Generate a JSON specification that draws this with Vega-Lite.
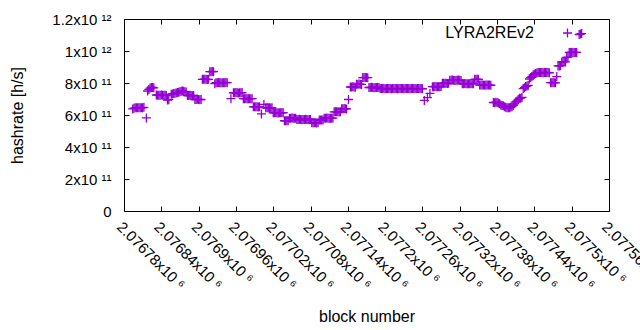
{
"$schema": "https://vega.github.io/schema/vega-lite/v6.json",
"width": 485, "height": 192,
"autosize": {"type": "none"},
"padding": {"left": 124, "top": 19, "right": 31, "bottom": 119},
"background": "#ffffff",
"data": {"values": [
{"b":2076794,"h":6.38e11},{"b":2076796,"h":6.42e11},{"b":2076798,"h":6.45e11},{"b":2076800,"h":6.45e11},{"b":2076802,"h":6.46e11},{"b":2076804,"h":6.45e11},{"b":2076806,"h":6.45e11},{"b":2076808,"h":6.46e11},{"b":2076810,"h":6.45e11},{"b":2076812,"h":6.48e11},
{"b":2076816,"h":5.82e11},
{"b":2076818,"h":7.5e11},{"b":2076820,"h":7.6e11},{"b":2076822,"h":7.68e11},{"b":2076824,"h":7.72e11},{"b":2076826,"h":7.72e11},{"b":2076828,"h":7.7e11},
{"b":2076832,"h":7.25e11},{"b":2076834,"h":7.24e11},{"b":2076836,"h":7.23e11},{"b":2076838,"h":7.24e11},{"b":2076840,"h":7.25e11},{"b":2076842,"h":7.24e11},{"b":2076844,"h":7.24e11},{"b":2076846,"h":7.23e11},{"b":2076848,"h":7.22e11},
{"b":2076850,"h":6.93e11},{"b":2076852,"h":6.96e11},
{"b":2076856,"h":7.30e11},{"b":2076858,"h":7.32e11},{"b":2076860,"h":7.34e11},{"b":2076862,"h":7.36e11},{"b":2076864,"h":7.38e11},{"b":2076866,"h":7.40e11},{"b":2076868,"h":7.42e11},{"b":2076870,"h":7.45e11},{"b":2076872,"h":7.48e11},{"b":2076874,"h":7.50e11},{"b":2076876,"h":7.48e11},{"b":2076878,"h":7.46e11},{"b":2076880,"h":7.44e11},
{"b":2076882,"h":7.22e11},{"b":2076884,"h":7.22e11},{"b":2076886,"h":7.23e11},{"b":2076888,"h":7.22e11},{"b":2076890,"h":7.21e11},{"b":2076892,"h":7.22e11},
{"b":2076894,"h":6.97e11},{"b":2076896,"h":6.97e11},{"b":2076898,"h":6.98e11},{"b":2076900,"h":6.97e11},{"b":2076902,"h":6.96e11},{"b":2076904,"h":6.97e11},
{"b":2076906,"h":8.23e11},{"b":2076908,"h":8.23e11},{"b":2076910,"h":8.24e11},{"b":2076912,"h":8.23e11},{"b":2076914,"h":8.22e11},{"b":2076916,"h":8.23e11},
{"b":2076918,"h":8.71e11},{"b":2076920,"h":8.71e11},{"b":2076922,"h":8.72e11},{"b":2076924,"h":8.71e11},
{"b":2076926,"h":7.96e11},{"b":2076928,"h":8.02e11},{"b":2076930,"h":8.02e11},{"b":2076932,"h":8.03e11},{"b":2076934,"h":8.02e11},{"b":2076936,"h":8.02e11},{"b":2076938,"h":8.01e11},{"b":2076940,"h":8.02e11},{"b":2076942,"h":8.02e11},{"b":2076944,"h":8.03e11},{"b":2076946,"h":8.02e11},
{"b":2076952,"h":7.02e11},
{"b":2076956,"h":7.39e11},{"b":2076958,"h":7.39e11},{"b":2076960,"h":7.40e11},{"b":2076962,"h":7.39e11},{"b":2076964,"h":7.38e11},{"b":2076966,"h":7.39e11},{"b":2076968,"h":7.39e11},{"b":2076970,"h":7.40e11},
{"b":2076972,"h":7.02e11},{"b":2076974,"h":7.02e11},{"b":2076976,"h":7.03e11},{"b":2076978,"h":7.02e11},{"b":2076980,"h":7.01e11},{"b":2076982,"h":7.02e11},{"b":2076984,"h":7.02e11},{"b":2076986,"h":7.02e11},
{"b":2076988,"h":6.51e11},{"b":2076990,"h":6.51e11},{"b":2076992,"h":6.52e11},{"b":2076994,"h":6.51e11},{"b":2076996,"h":6.50e11},{"b":2076998,"h":6.51e11},
{"b":2077001,"h":6.07e11},
{"b":2077005,"h":6.66e11},
{"b":2077008,"h":6.45e11},{"b":2077010,"h":6.45e11},{"b":2077012,"h":6.46e11},{"b":2077014,"h":6.45e11},{"b":2077016,"h":6.44e11},{"b":2077018,"h":6.45e11},
{"b":2077020,"h":6.14e11},{"b":2077022,"h":6.14e11},{"b":2077024,"h":6.15e11},{"b":2077026,"h":6.14e11},{"b":2077028,"h":6.13e11},{"b":2077030,"h":6.14e11},{"b":2077032,"h":6.14e11},{"b":2077034,"h":6.15e11},{"b":2077036,"h":6.14e11},
{"b":2077038,"h":5.64e11},{"b":2077040,"h":5.64e11},{"b":2077042,"h":5.65e11},{"b":2077044,"h":5.64e11},
{"b":2077046,"h":5.80e11},{"b":2077048,"h":5.80e11},{"b":2077050,"h":5.81e11},{"b":2077052,"h":5.80e11},{"b":2077054,"h":5.79e11},{"b":2077056,"h":5.80e11},
{"b":2077058,"h":5.72e11},{"b":2077060,"h":5.72e11},{"b":2077062,"h":5.73e11},{"b":2077064,"h":5.72e11},{"b":2077066,"h":5.71e11},{"b":2077068,"h":5.72e11},{"b":2077070,"h":5.72e11},{"b":2077072,"h":5.73e11},{"b":2077074,"h":5.72e11},{"b":2077076,"h":5.71e11},{"b":2077078,"h":5.72e11},{"b":2077080,"h":5.72e11},
{"b":2077082,"h":5.51e11},{"b":2077084,"h":5.51e11},{"b":2077086,"h":5.52e11},{"b":2077088,"h":5.51e11},{"b":2077090,"h":5.50e11},{"b":2077092,"h":5.51e11},
{"b":2077094,"h":5.68e11},{"b":2077096,"h":5.68e11},{"b":2077098,"h":5.69e11},{"b":2077100,"h":5.68e11},
{"b":2077102,"h":5.80e11},{"b":2077104,"h":5.80e11},{"b":2077106,"h":5.81e11},{"b":2077108,"h":5.80e11},{"b":2077110,"h":5.79e11},{"b":2077112,"h":5.80e11},{"b":2077114,"h":5.80e11},{"b":2077116,"h":5.81e11},
{"b":2077118,"h":6.20e11},{"b":2077120,"h":6.20e11},{"b":2077122,"h":6.21e11},{"b":2077124,"h":6.20e11},{"b":2077126,"h":6.19e11},{"b":2077128,"h":6.20e11},
{"b":2077130,"h":6.39e11},{"b":2077132,"h":6.39e11},{"b":2077134,"h":6.40e11},{"b":2077136,"h":6.39e11},{"b":2077138,"h":6.38e11},
{"b":2077141,"h":6.97e11},
{"b":2077144,"h":7.75e11},{"b":2077146,"h":7.75e11},{"b":2077148,"h":7.76e11},{"b":2077150,"h":7.75e11},{"b":2077152,"h":7.74e11},
{"b":2077154,"h":7.92e11},{"b":2077156,"h":7.92e11},{"b":2077158,"h":7.93e11},{"b":2077160,"h":7.92e11},{"b":2077162,"h":7.91e11},
{"b":2077164,"h":8.34e11},{"b":2077166,"h":8.34e11},{"b":2077168,"h":8.35e11},{"b":2077170,"h":8.34e11},{"b":2077172,"h":8.33e11},
{"b":2077174,"h":7.72e11},{"b":2077176,"h":7.72e11},{"b":2077178,"h":7.73e11},{"b":2077180,"h":7.72e11},{"b":2077182,"h":7.71e11},{"b":2077184,"h":7.72e11},{"b":2077186,"h":7.72e11},{"b":2077188,"h":7.73e11},{"b":2077190,"h":7.72e11},
{"b":2077192,"h":7.65e11},{"b":2077194,"h":7.65e11},{"b":2077196,"h":7.66e11},{"b":2077198,"h":7.65e11},{"b":2077200,"h":7.64e11},{"b":2077202,"h":7.65e11},{"b":2077204,"h":7.65e11},{"b":2077206,"h":7.66e11},{"b":2077208,"h":7.65e11},{"b":2077210,"h":7.64e11},{"b":2077212,"h":7.65e11},{"b":2077214,"h":7.65e11},{"b":2077216,"h":7.66e11},{"b":2077218,"h":7.65e11},{"b":2077220,"h":7.64e11},{"b":2077222,"h":7.65e11},{"b":2077224,"h":7.65e11},{"b":2077226,"h":7.66e11},{"b":2077228,"h":7.65e11},{"b":2077230,"h":7.64e11},{"b":2077232,"h":7.65e11},{"b":2077234,"h":7.65e11},{"b":2077236,"h":7.66e11},{"b":2077238,"h":7.65e11},{"b":2077240,"h":7.64e11},{"b":2077242,"h":7.65e11},{"b":2077244,"h":7.65e11},{"b":2077246,"h":7.66e11},{"b":2077248,"h":7.65e11},{"b":2077250,"h":7.64e11},{"b":2077252,"h":7.65e11},{"b":2077254,"h":7.65e11},{"b":2077256,"h":7.66e11},{"b":2077258,"h":7.65e11},{"b":2077260,"h":7.64e11},
{"b":2077263,"h":6.91e11},{"b":2077268,"h":7.08e11},{"b":2077272,"h":7.35e11},
{"b":2077276,"h":7.77e11},{"b":2077278,"h":7.77e11},{"b":2077280,"h":7.78e11},{"b":2077282,"h":7.77e11},{"b":2077284,"h":7.76e11},{"b":2077286,"h":7.77e11},{"b":2077288,"h":7.77e11},{"b":2077290,"h":7.78e11},
{"b":2077292,"h":7.98e11},{"b":2077294,"h":7.98e11},{"b":2077296,"h":7.99e11},{"b":2077298,"h":7.98e11},{"b":2077300,"h":7.97e11},{"b":2077302,"h":7.98e11},
{"b":2077304,"h":8.17e11},{"b":2077306,"h":8.17e11},{"b":2077308,"h":8.18e11},{"b":2077310,"h":8.17e11},{"b":2077312,"h":8.16e11},{"b":2077314,"h":8.17e11},{"b":2077316,"h":8.17e11},{"b":2077318,"h":8.18e11},{"b":2077320,"h":8.17e11},{"b":2077322,"h":8.16e11},
{"b":2077324,"h":7.96e11},{"b":2077326,"h":7.96e11},{"b":2077328,"h":7.97e11},{"b":2077330,"h":7.96e11},{"b":2077332,"h":7.95e11},{"b":2077334,"h":7.96e11},{"b":2077336,"h":7.96e11},{"b":2077338,"h":7.97e11},{"b":2077340,"h":7.96e11},{"b":2077342,"h":7.95e11},
{"b":2077344,"h":8.23e11},{"b":2077346,"h":8.23e11},{"b":2077348,"h":8.24e11},{"b":2077350,"h":8.23e11},
{"b":2077352,"h":7.87e11},{"b":2077354,"h":7.87e11},{"b":2077356,"h":7.88e11},{"b":2077358,"h":7.87e11},{"b":2077360,"h":7.86e11},{"b":2077362,"h":7.87e11},{"b":2077364,"h":7.87e11},{"b":2077366,"h":7.88e11},{"b":2077368,"h":7.87e11},{"b":2077370,"h":7.86e11},
{"b":2077374,"h":6.78e11},{"b":2077376,"h":6.77e11},{"b":2077378,"h":6.80e11},{"b":2077380,"h":6.78e11},{"b":2077382,"h":6.75e11},{"b":2077384,"h":6.70e11},
{"b":2077386,"h":6.62e11},{"b":2077388,"h":6.60e11},{"b":2077390,"h":6.58e11},{"b":2077392,"h":6.52e11},{"b":2077394,"h":6.48e11},{"b":2077396,"h":6.45e11},{"b":2077398,"h":6.45e11},{"b":2077400,"h":6.46e11},{"b":2077402,"h":6.50e11},{"b":2077404,"h":6.52e11},
{"b":2077406,"h":6.60e11},{"b":2077408,"h":6.70e11},{"b":2077410,"h":6.82e11},{"b":2077412,"h":6.88e11},{"b":2077414,"h":6.97e11},{"b":2077416,"h":7.04e11},{"b":2077418,"h":7.05e11},{"b":2077420,"h":7.10e11},
{"b":2077422,"h":7.65e11},{"b":2077424,"h":7.71e11},{"b":2077426,"h":7.78e11},{"b":2077428,"h":7.81e11},{"b":2077430,"h":7.85e11},
{"b":2077432,"h":8.25e11},{"b":2077434,"h":8.34e11},{"b":2077436,"h":8.40e11},{"b":2077438,"h":8.50e11},{"b":2077440,"h":8.55e11},{"b":2077442,"h":8.60e11},{"b":2077444,"h":8.62e11},
{"b":2077446,"h":8.65e11},{"b":2077448,"h":8.65e11},{"b":2077450,"h":8.66e11},{"b":2077452,"h":8.65e11},{"b":2077454,"h":8.64e11},{"b":2077456,"h":8.65e11},{"b":2077458,"h":8.65e11},{"b":2077460,"h":8.66e11},{"b":2077462,"h":8.65e11},{"b":2077464,"h":8.64e11},
{"b":2077466,"h":8.02e11},{"b":2077468,"h":8.02e11},{"b":2077470,"h":8.03e11},{"b":2077472,"h":8.02e11},{"b":2077474,"h":8.01e11},
{"b":2077476,"h":8.40e11},
{"b":2077478,"h":9.07e11},{"b":2077480,"h":9.07e11},{"b":2077482,"h":9.08e11},
{"b":2077484,"h":9.32e11},{"b":2077486,"h":9.32e11},{"b":2077488,"h":9.33e11},{"b":2077490,"h":9.32e11},
{"b":2077492,"h":9.60e11},{"b":2077494,"h":9.62e11},
{"b":2077496,"h":9.91e11},{"b":2077498,"h":9.91e11},{"b":2077500,"h":9.92e11},{"b":2077502,"h":9.91e11},{"b":2077504,"h":9.90e11},{"b":2077506,"h":9.91e11},{"b":2077508,"h":9.91e11},
{"b":2077512,"h":1.103e12},{"b":2077514,"h":1.106e12},{"b":2077516,"h":1.109e12}
]},
"layer": [
{
"mark": {"type": "point", "shape": "M-1,0H1M0,-1V1", "filled": false, "size": 81, "strokeWidth": 1.3, "opacity": 1, "clip": false},
"encoding": {
"x": {"field": "b", "type": "quantitative",
"scale": {"domain": [2076780, 2077560], "nice": false, "zero": false},
"axis": {"orient": "bottom", "values": [2076780,2076840,2076900,2076960,2077020,2077080,2077140,2077200,2077260,2077320,2077380,2077440,2077500,2077560],
"labelExpr": "format(datum.value/1e6, '.6~g') + 'x10 ⁶'",
"labelAngle": 45, "labelAlign": "left", "labelBaseline": "top", "labelPadding": 13,
"labelOverlap": false, "labelFlush": false, "labelBound": false,
"title": "block number", "titleY": 110, "titleBaseline": "alphabetic"}},
"y": {"field": "h", "type": "quantitative",
"scale": {"domain": [0, 1.2e12], "nice": false},
"axis": {"orient": "left", "values": [0,2e11,4e11,6e11,8e11,1e12,1.2e12],
"labelExpr": "datum.value == 0 ? '0' : (datum.value >= 1e12 ? format(datum.value/1e12, '~g') + 'x10 ¹²' : format(datum.value/1e11, '~g') + 'x10 ¹¹')",
"labelPadding": 18, "labelOverlap": false, "labelFlush": false,
"title": "hashrate [h/s]", "titleX": -107, "titleY": 96, "titleAngle": 270, "titleAlign": "center", "titleBaseline": "middle"}},
"color": {"datum": "LYRA2REv2", "type": "nominal",
"scale": {"range": ["#9400D3"]},
"legend": {"orient": "none", "legendX": 435.5, "legendY": 6, "title": null, "padding": 0,
"symbolType": "M-1,0H1M0,-1V1", "symbolSize": 81, "symbolStrokeWidth": 1.3, "symbolFillColor": "transparent",
"labelAlign": "right", "labelOffset": -41.5, "labelFontSize": 16, "labelFont": "Liberation Sans", "labelColor": "#000", "labelLimit": 0}}
}
},
{
"mark": {"type": "point", "opacity": 0},
"encoding": {
"x": {"field": "b", "type": "quantitative",
"scale": {"domain": [2076780, 2077560], "nice": false, "zero": false},
"axis": {"orient": "top", "labels": false, "title": null, "values": [2076780,2076840,2076900,2076960,2077020,2077080,2077140,2077200,2077260,2077320,2077380,2077440,2077500,2077560]}},
"y": {"field": "h", "type": "quantitative",
"scale": {"domain": [0, 1.2e12], "nice": false},
"axis": {"orient": "right", "labels": false, "title": null, "values": [0,2e11,4e11,6e11,8e11,1e12,1.2e12]}}
}
}
],
"resolve": {"axis": {"x": "independent", "y": "independent"}},
"config": {
"view": {"stroke": "#000", "strokeWidth": 1},
"font": "Liberation Sans",
"axis": {"domain": false, "grid": false, "ticks": true, "tickColor": "#000", "tickSize": -5, "tickWidth": 1,
"labelColor": "#000", "labelFontSize": 15, "labelFont": "Liberation Sans",
"titleFontSize": 16, "titleFontWeight": "normal", "titleColor": "#000", "titleFont": "Liberation Sans"}
}
}
